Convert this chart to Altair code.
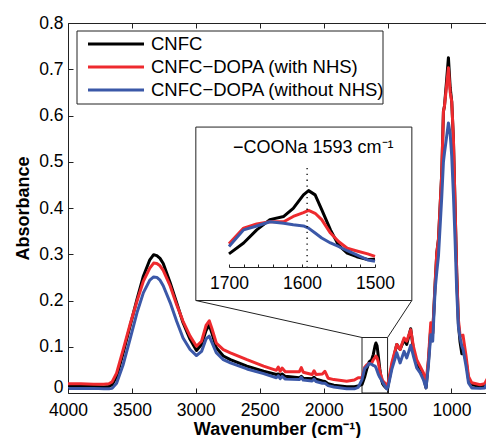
import altair as alt
import pandas as pd

# ---------------- data ----------------
wavenumber = [4000, 3900, 3800, 3720, 3680, 3655, 3620, 3570, 3515, 3460, 3410, 3360, 3330, 3305,
              3280, 3255, 3200, 3150, 3100, 3045, 2995, 2955, 2920, 2895, 2875, 2840, 2785, 2730,
              2600, 2470, 2370, 2355, 2340, 2325, 2300, 2190, 2175, 2160, 2090, 2075, 2060, 2010,
              1990, 1965, 1920, 1820, 1760, 1730, 1700, 1680, 1662, 1644, 1625, 1612, 1598, 1591,
              1582, 1573, 1561, 1550, 1538, 1525, 1510, 1500, 1467, 1428, 1402, 1371, 1350, 1319,
              1298, 1272, 1246, 1220, 1199, 1181, 1162, 1147, 1128, 1115, 1102, 1076, 1063, 1055,
              1040, 1024, 1010, 998, 985, 972, 959, 946, 933, 919, 910, 886, 867, 841, 776, 740,
              724, 710, 685, 667]

cnfc = [0.014, 0.014, 0.014, 0.013, 0.014, 0.018, 0.035, 0.085, 0.144, 0.203, 0.253, 0.288, 0.299, 0.297,
        0.291, 0.280, 0.238, 0.195, 0.152, 0.116, 0.092, 0.105, 0.135, 0.147, 0.130, 0.098, 0.080, 0.072,
        0.058, 0.047, 0.040, 0.041, 0.038, 0.041, 0.036, 0.033, 0.036, 0.032, 0.031, 0.034, 0.030, 0.026,
        0.025, 0.020, 0.017, 0.0135, 0.0135, 0.015, 0.0185, 0.034, 0.0525, 0.067, 0.0715, 0.083, 0.102, 0.108,
        0.102, 0.081, 0.0525, 0.031, 0.0195, 0.0146, 0.0105, 0.011, 0.058, 0.105, 0.094, 0.115, 0.105, 0.139,
        0.094, 0.065, 0.051, 0.036, 0.011, 0.065, 0.141, 0.128, 0.235, 0.303, 0.332, 0.476, 0.609, 0.620,
        0.670, 0.725, 0.660, 0.630, 0.550, 0.404, 0.260, 0.150, 0.110, 0.085, 0.090, 0.070, 0.030, 0.018, 0.0147, 0.016,
        0.022, 0.025, 0.050, 0.055]

cnfc_dopa_nhs = [0.020, 0.020, 0.019, 0.019, 0.020, 0.024, 0.043, 0.092, 0.148, 0.199, 0.242, 0.270, 0.281, 0.280,
                 0.275, 0.265, 0.231, 0.191, 0.155, 0.123, 0.101, 0.112, 0.146, 0.156, 0.140, 0.108, 0.094, 0.087,
                 0.072, 0.058, 0.049, 0.056, 0.047, 0.054, 0.046, 0.046, 0.055, 0.045, 0.040, 0.048, 0.040, 0.041,
                 0.047, 0.032, 0.029, 0.0255, 0.028, 0.033, 0.033, 0.055, 0.061, 0.064, 0.064, 0.0715, 0.077, 0.080,
                 0.076, 0.067, 0.048, 0.036, 0.0265, 0.0227, 0.0185, 0.015, 0.065, 0.105, 0.094, 0.119, 0.112, 0.137,
                 0.101, 0.072, 0.058, 0.044, 0.022, 0.072, 0.152, 0.130, 0.238, 0.303, 0.332, 0.476, 0.609, 0.620,
                 0.660, 0.703, 0.650, 0.630, 0.550, 0.404, 0.260, 0.159, 0.125, 0.123, 0.125, 0.080, 0.036, 0.022, 0.018, 0.020,
                 0.029, 0.030, 0.058, 0.062]

cnfc_dopa_no_nhs = [0.010, 0.010, 0.010, 0.009, 0.009, 0.010, 0.021, 0.060, 0.116, 0.174, 0.217, 0.244, 0.251, 0.250,
                    0.244, 0.232, 0.195, 0.155, 0.119, 0.094, 0.081, 0.090, 0.117, 0.123, 0.110, 0.087, 0.072, 0.065,
                    0.052, 0.042, 0.033, 0.037, 0.031, 0.036, 0.030, 0.029, 0.034, 0.028, 0.026, 0.030, 0.025, 0.021,
                    0.021, 0.016, 0.013, 0.009, 0.009, 0.012, 0.029, 0.0525, 0.058, 0.064, 0.062, 0.0597, 0.058, 0.055,
                    0.048, 0.041, 0.034, 0.029, 0.023, 0.017, 0.010, 0.008, 0.051, 0.087, 0.065, 0.090, 0.076, 0.103,
                    0.080, 0.0545, 0.044, 0.029, 0.011, 0.058, 0.126, 0.112, 0.224, 0.262, 0.296, 0.425, 0.500, 0.519,
                    0.550, 0.584, 0.560, 0.512, 0.430, 0.332, 0.220, 0.144, 0.120, 0.101, 0.095, 0.058, 0.022, 0.011, 0.010, 0.011,
                    0.018, 0.020, 0.047, 0.050]

series_names = ["CNFC", "CNFC\u2212DOPA (with NHS)", "CNFC\u2212DOPA (without NHS)"]
series_colors = ["#000000", "#ee2a2e", "#3b58a8"]

x_ticks = [4000, 3500, 3000, 2500, 2000, 1500, 1000]
y_ticks = [0, 0.1, 0.2, 0.3, 0.4, 0.5, 0.6, 0.7, 0.8]
inset_labels = [1700, 1600, 1500]
inset_minor = [1700, 1680, 1660, 1640, 1620, 1600, 1580, 1560, 1540, 1520, 1500]

zoom_window = {"x": [1700], "x2": [1500], "y": [0.0], "y2": [0.12]}
inset_frame = {"x": [3000], "x2": [1310], "y": [0.2], "y2": [0.575]}
connectors = {"x": [1700, 1500], "y": [0.12, 0.12], "x2": [3000, 1310], "y2": [0.2, 0.2]}
peak_wn = [1593]
inset_title = "\u2212COONa 1593 cm\u207b\u00b9"

# ---------------- tables ----------------
rows = []
for name, vals in zip(series_names, [cnfc, cnfc_dopa_nhs, cnfc_dopa_no_nhs]):
    for w, a in zip(wavenumber, vals):
        rows.append({"wn": w, "A": a, "series": name})
df = pd.DataFrame(rows)

FONT = "Liberation Sans"
W, H = 418, 370
X_DOM = [4000, 730]
Y_DOM = [0, 0.8]
INSET_X_RANGE = [161, 307]
INSET_Y_RANGE = [244, 145]
INSET_Y_DOM = [0, 0.14]
AX = "#222222"
TICK_FS = 17.5


def mx():
    return alt.Scale(domain=X_DOM, nice=False, zero=False)


def my():
    return alt.Scale(domain=Y_DOM, nice=False, zero=False)


def ix():
    return alt.Scale(domain=[1700, 1500], range=INSET_X_RANGE, nice=False, zero=False)


def iy():
    return alt.Scale(domain=INSET_Y_DOM, range=INSET_Y_RANGE, nice=False, zero=False)


main_x_axis = alt.Axis(orient="bottom", values=x_ticks, format="d", tickSize=0, labelPadding=8,
                       labelFontSize=TICK_FS, labelFont=FONT, labelColor="black", labelFlush=False,
                       domainColor=AX, domainWidth=1, grid=False,
                       title="Wavenumber (cm\u207b\u00b9)", titleFont=FONT, titleFontSize=18,
                       titleFontWeight="bold", titleColor="black", titlePadding=2)
main_y_axis = alt.Axis(orient="left", values=y_ticks, tickSize=0, labelPadding=5,
                       labelExpr="datum.value == 0 ? '0' : format(datum.value, '.1f')",
                       labelOffset={"condition": {"test": "datum.value == 0", "value": -6}, "value": 0},
                       labelFontSize=TICK_FS, labelFont=FONT, labelColor="black",
                       domainColor=AX, domainWidth=1, grid=False,
                       title="Absorbance", titleFont=FONT, titleFontSize=18,
                       titleFontWeight="bold", titleColor="black", titlePadding=6)
tick_x_bottom = alt.Axis(orient="top", offset=-H, values=x_ticks, labels=False, domain=False,
                         tickSize=5, tickColor=AX, grid=False, title=None, zindex=1)
tick_y_left = alt.Axis(orient="right", offset=-W, values=y_ticks, labels=False, domain=False,
                       tickSize=5, tickColor=AX, grid=False, title=None, zindex=1)
top_border = alt.Axis(orient="bottom", offset=-H, values=x_ticks, labels=False, domain=True,
                      domainColor=AX, domainWidth=1, tickSize=5, tickColor=AX, grid=False, title=None, zindex=1)
inset_axis = alt.Axis(orient="bottom", offset=-(H - INSET_Y_RANGE[0]), values=inset_labels, format="d",
                      tickSize=0, labelPadding=7, labelFontSize=TICK_FS, labelFont=FONT, labelColor="black",
                      labelFlush=False, domainColor=AX, domainWidth=1, grid=False, title=None, zindex=1)
inset_ticks = alt.Axis(orient="top", offset=-INSET_Y_RANGE[0], values=inset_minor, labels=False,
                       domain=False, tickSize=3, tickColor=AX, grid=False, title=None, zindex=1)

layers = []

# zoom window rectangle
layers.append(alt.Chart(pd.DataFrame(zoom_window)).mark_rect(fillOpacity=0, stroke=AX, strokeWidth=1).encode(
    x=alt.X("x:Q", scale=mx(), axis=None), x2="x2:Q",
    y=alt.Y("y:Q", scale=my(), axis=None), y2="y2:Q"))
# connector lines
layers.append(alt.Chart(pd.DataFrame(connectors)).mark_rule(color=AX, strokeWidth=1).encode(
    x=alt.X("x:Q", scale=mx(), axis=None), x2="x2:Q",
    y=alt.Y("y:Q", scale=my(), axis=None), y2="y2:Q"))
# inset frame
layers.append(alt.Chart(pd.DataFrame(inset_frame)).mark_rect(fill="white", stroke=AX, strokeWidth=1).encode(
    x=alt.X("x:Q", scale=mx(), axis=None), x2="x2:Q",
    y=alt.Y("y:Q", scale=my(), axis=None), y2="y2:Q"))

# main spectra
main_axes = [(main_x_axis, main_y_axis), (tick_x_bottom, tick_y_left), (top_border, None)]
for name, color, (xa, ya) in zip(series_names, series_colors, main_axes):
    layers.append(alt.Chart(df).transform_filter(alt.datum.series == name).mark_line(
        color=color, strokeWidth=3, strokeJoin="round", clip=True).encode(
        x=alt.X("wn:Q", scale=mx(), axis=xa),
        y=alt.Y("A:Q", scale=my(), axis=ya)))

# inset spectra
inset_axes = [inset_axis, inset_ticks, None]
for name, color, xa in zip(series_names, series_colors, inset_axes):
    layers.append(alt.Chart(df).transform_filter(alt.datum.series == name).transform_filter(
        alt.FieldRangePredicate(field="wn", range=[1500, 1700])).mark_line(
        color=color, strokeWidth=3, strokeJoin="round").encode(
        x=alt.X("wn:Q", scale=ix(), axis=xa),
        y=alt.Y("A:Q", scale=iy(), axis=None)))

# dotted marker at 1593
layers.append(alt.Chart(pd.DataFrame({"wn": peak_wn})).mark_rule(
    color="black", strokeWidth=1.3, strokeDash=[1.3, 4.5]).encode(
    x=alt.X("wn:Q", scale=ix(), axis=None),
    y=alt.value(INSET_Y_RANGE[1]), y2=alt.value(INSET_Y_RANGE[0])))
# inset title
layers.append(alt.Chart(pd.DataFrame({"t": [inset_title]})).mark_text(
    align="left", baseline="alphabetic", font=FONT, fontSize=18, color="black").encode(
    text="t:N", x=alt.value(165), y=alt.value(130)))

# legend
layers.append(alt.Chart(pd.DataFrame({"a": [0]})).mark_rect(fill="white", stroke=AX, strokeWidth=1).encode(
    x=alt.value(9), x2=alt.value(315), y=alt.value(8), y2=alt.value(81)))
for i, (name, color) in enumerate(zip(series_names, series_colors)):
    ly = 21 + 23 * i
    layers.append(alt.Chart(pd.DataFrame({"series": [name]})).mark_rule(color=color, strokeWidth=3).encode(
        x=alt.value(20), x2=alt.value(76), y=alt.value(ly)))
    layers.append(alt.Chart(pd.DataFrame({"series": [name]})).mark_text(
        align="left", baseline="middle", font=FONT, fontSize=18.5, color="black").encode(
        text="series:N", x=alt.value(83), y=alt.value(ly)))

chart = alt.layer(*layers).resolve_scale(x="independent", y="independent").properties(
    width=W, height=H,
    padding={"left": 60, "top": 15, "right": 0, "bottom": 45},
    autosize=alt.AutoSizeParams(type="none"),
    background="white",
).configure_view(strokeWidth=0)

chart.save("out.html", embed_options={"renderer": "svg", "actions": False})
